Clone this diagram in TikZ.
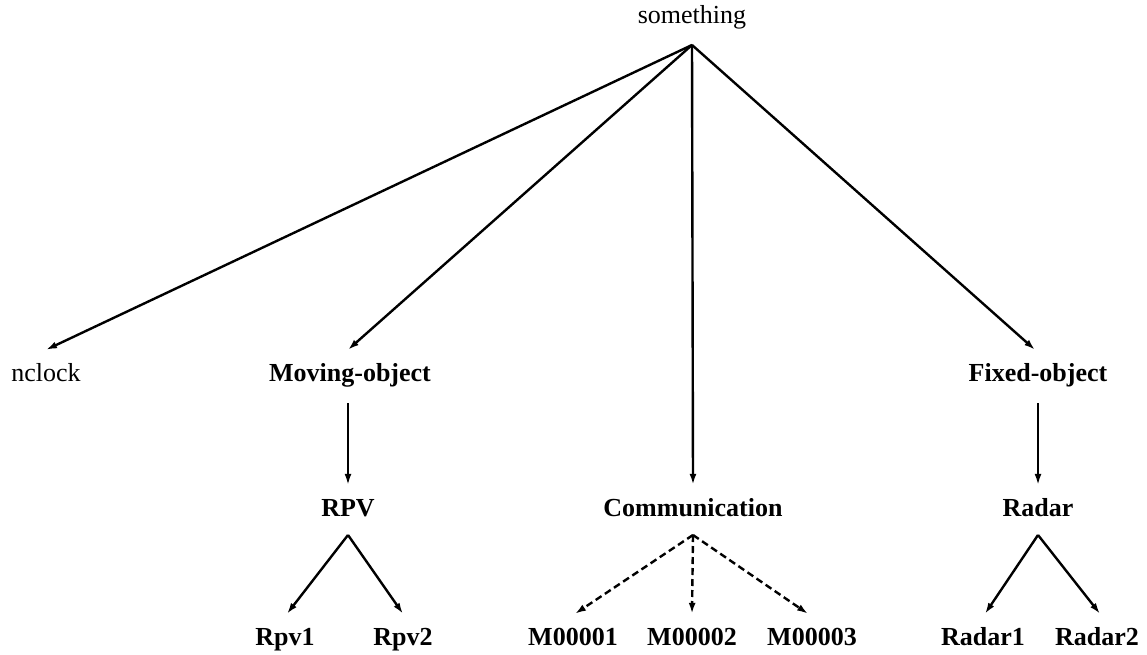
\documentclass[tikz,border=0pt]{standalone}
\usepackage{fontspec}
\setmainfont{Liberation Serif}
\usetikzlibrary{arrows.meta}
\begin{document}
\begin{tikzpicture}[x=1pt,y=-1pt,
  lbl/.style={anchor=base,inner xsep=0pt,inner ysep=13pt,text height=18pt,text depth=5pt,font=\fontsize{26}{31}\selectfont},
  blbl/.style={lbl,font=\fontsize{26}{31}\selectfont\bfseries},
  arr/.style={line width=2.4pt,-{Latex[length=11pt,width=7pt]}},
  darr/.style={arr,dash pattern=on 7pt off 4pt}]
\useasboundingbox (0,0) rectangle (1147,655);
% nodes
\node[lbl]  (root) at (692,24) {something};
\node[lbl]  (nclock) at (46,381) {nclock};
\node[blbl] (moving) at (350,381) {Moving-object};
\node[blbl] (fixed) at (1038,381) {Fixed-object};
\node[blbl] (rpv) at (348,516) {RPV};
\node[blbl] (comm) at (693,516) {Communication};
\node[blbl] (radar) at (1038,516) {Radar};
\node[blbl] (rpv1) at (285,645) {Rpv1};
\node[blbl] (rpv2) at (403,645) {Rpv2};
\node[blbl] (m1) at (573,645) {M00001};
\node[blbl] (m2) at (692,645) {M00002};
\node[blbl] (m3) at (812,645) {M00003};
\node[blbl] (radar1) at (983,645) {Radar1};
\node[blbl] (radar2) at (1097,645) {Radar2};
% apex points (below the parent's text)
\coordinate (rootA) at ([yshift=-21pt]root.base);
\coordinate (movingA) at ([yshift=-22pt]moving.base);
\coordinate (fixedA) at ([yshift=-22pt]fixed.base);
\coordinate (rpvA) at ([yshift=-19pt]rpv.base);
\coordinate (commA) at ([yshift=-19pt]comm.base);
\coordinate (radarA) at ([yshift=-19pt]radar.base);
% connectors
\draw[arr] (rootA) -- (nclock.north);
\draw[arr] (rootA) -- ([xshift=-2pt]moving.north);
\draw[arr] (rootA) -- (comm.north);
\draw[arr] (rootA) -- ([xshift=-3pt]fixed.north);
\draw[arr,line width=1.9pt] ([xshift=-2pt]movingA) -- (rpv.north);
\draw[arr,line width=1.9pt] (fixedA) -- (radar.north);
\draw[arr] (rpvA) -- ([xshift=2pt]rpv1.north);
\draw[arr] (rpvA) -- (rpv2.north);
\draw[darr] (commA) -- ([xshift=2pt]m1.north);
\draw[darr] (commA) -- (m2.north);
\draw[darr] (commA) -- ([xshift=-4pt]m3.north);
\draw[arr] (radarA) -- ([xshift=2pt]radar1.north);
\draw[arr] (radarA) -- ([xshift=3pt]radar2.north);
\end{tikzpicture}
\end{document}
